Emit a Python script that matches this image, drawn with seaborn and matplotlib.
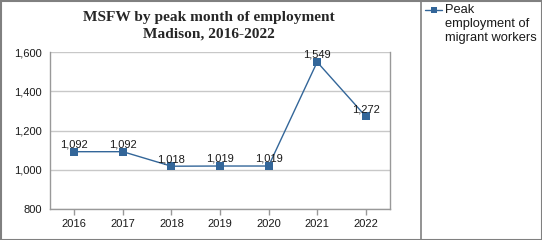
import matplotlib
matplotlib.use("Agg")
import matplotlib.pyplot as plt
import seaborn as sns
import pandas as pd
from matplotlib.lines import Line2D
from matplotlib.patches import Rectangle

years = ["2016", "2017", "2018", "2019", "2020", "2021", "2022"]
values = [1092, 1092, 1018, 1019, 1019, 1549, 1272]
yticks = [800, 1000, 1200, 1400, 1600]
series_name = "Peak\nemployment of\nmigrant workers"
title = "MSFW by peak month of employment\nMadison, 2016-2022"

sns.set_theme(style="white")
plt.rcParams['font.family'] = ['Liberation Sans', 'DejaVu Sans']

W, H = 542, 240
fig = plt.figure(figsize=(W / 100, H / 100), dpi=100)
ax = fig.add_axes([50 / W, (H - 209) / H, 340 / W, 157 / H])

df = pd.DataFrame({"year": years, "value": values})
color = "#336699"
sns.lineplot(data=df, x="year", y="value", ax=ax, color=color, linewidth=1.0,
             marker="s", markersize=5.3, markeredgewidth=0, sort=False)

ax.set_xlim(-0.5, len(years) - 0.5)
ax.set_ylim(800, 1600)
ax.set_yticks(yticks)
ax.set_yticklabels([f"{v:,}" for v in yticks], fontsize=8, color="#1a1a1a")
ax.set_xticks(range(len(years)))
ax.set_xticklabels(years, fontsize=8, color="#1a1a1a")
ax.set_xlabel("")
ax.set_ylabel("")
ax.grid(axis="y", color="#c8c8c8", linewidth=1)
ax.tick_params(axis="x", length=4, color="#999999", width=1, pad=3, bottom=True)
ax.tick_params(axis="y", length=0, pad=6)
for s in ["left", "bottom", "right"]:
    ax.spines[s].set_color("#999999")
    ax.spines[s].set_linewidth(1)
ax.spines["top"].set_visible(False)

for i, v in enumerate(values):
    ax.annotate(f"{v:,}", (i, v), xytext=(0, 1.5), textcoords="offset points",
                ha="center", va="bottom", fontsize=8, color="#1a1a1a")

fig.text(209 / W, 1 - 26 / H, title, ha="center", va="center", fontsize=11.1,
         fontweight="bold", family=["Liberation Serif", "DejaVu Serif"],
         linespacing=1.4)

# legend (handle aligned with the first line of the label, as in the reference)
fig.add_artist(Line2D([425 / W, 442 / W], [1 - 10 / H, 1 - 10 / H],
                      transform=fig.transFigure, color=color, linewidth=1.0))
fig.add_artist(Line2D([433.5 / W], [1 - 10 / H], transform=fig.transFigure,
                      color=color, marker="s", markersize=5, markeredgewidth=0,
                      linestyle="none"))
for k, line in enumerate(series_name.split("\n")):
    fig.text(445 / W, 1 - (10 + 14 * k) / H, line, ha="left", va="center",
             fontsize=9.3, color="#1a1a1a")

fig.add_artist(Rectangle((0.5 / W, 0.5 / H), (W - 1) / W, (H - 1.5) / H,
                         transform=fig.transFigure, fill=False,
                         edgecolor="#808080", linewidth=1.5))
fig.add_artist(Line2D([421 / W, 421 / W], [0, 1], transform=fig.transFigure,
                      color="#808080", linewidth=1.2))

fig.savefig("out.png", dpi=100)
